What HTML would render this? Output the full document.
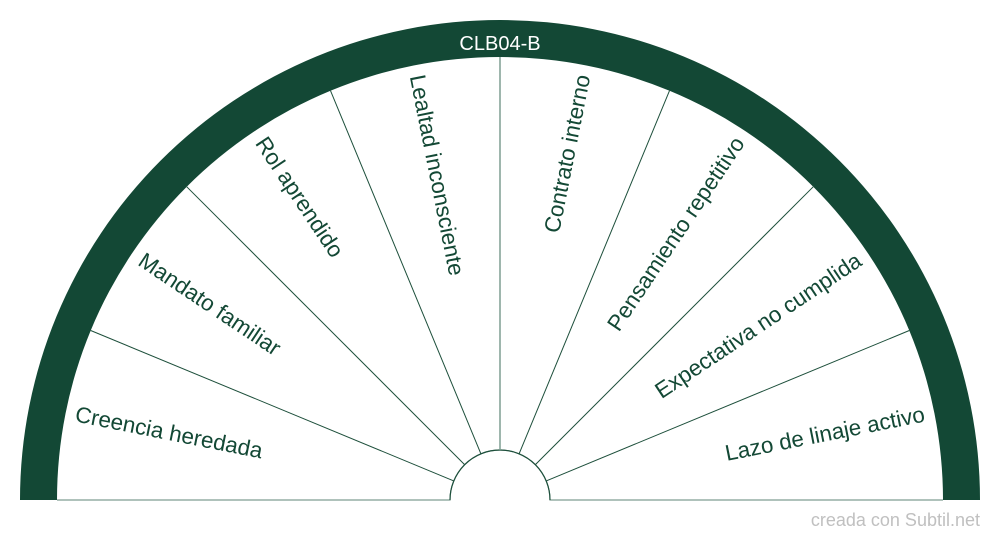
<!DOCTYPE html>
<html><head><meta charset="utf-8"><style>
html,body{margin:0;padding:0;background:#fff;}
svg{display:block;}
text{font-family:"Liberation Sans",sans-serif;}
</style></head><body>
<svg width="1000" height="540" viewBox="0 0 1000 540" xmlns="http://www.w3.org/2000/svg">
<path d="M20,500 A480,480 0 0 1 980,500 L943,500 A443,443 0 0 0 57,500 Z" fill="#134835"/>
<g stroke="#1d4f3b" stroke-width="1" fill="none">
<path d="M57,500 L450,500 A50,50 0 0 1 550,500 L943,500" stroke="#7f9d92" stroke-width="1.2"/>
<path d="M450,500 A50,50 0 0 1 550,500" stroke="#1d4f3b" stroke-width="1.2"/>
<line x1="453.8" y1="480.9" x2="90.7" y2="330.5"/>
<line x1="464.6" y1="464.6" x2="186.8" y2="186.8"/>
<line x1="480.9" y1="453.8" x2="330.5" y2="90.7"/>
<line x1="500" y1="450" x2="500" y2="57" stroke="#7f9d92" stroke-width="1.5"/>
<line x1="519.1" y1="453.8" x2="669.5" y2="90.7"/>
<line x1="535.4" y1="464.6" x2="813.2" y2="186.8"/>
<line x1="546.2" y1="480.9" x2="909.3" y2="330.5"/>
</g>
<text x="500" y="50" fill="#fff" font-size="20" text-anchor="middle">CLB04-B</text>
<g fill="#134835" font-size="22.4" dominant-baseline="middle">
<text transform="translate(75.3,415.5) rotate(11.25)">Creencia heredada</text>
<text transform="translate(140.0,259.5) rotate(33.75)">Mandato familiar</text>
<text transform="translate(259.5,140.0) rotate(56.25)">Rol aprendido</text>
<text transform="translate(415.5,75.3) rotate(78.75)">Lealtad inconsciente</text>
<text text-anchor="end" transform="translate(584.5,75.3) rotate(-78.75)">Contrato interno</text>
<text text-anchor="end" transform="translate(740.5,140.0) rotate(-56.25)">Pensamiento repetitivo</text>
<text text-anchor="end" transform="translate(860.0,259.5) rotate(-33.75)">Expectativa no cumplida</text>
<text text-anchor="end" transform="translate(924.7,415.5) rotate(-11.25)">Lazo de linaje activo</text>
</g>
<text x="980" y="526" fill="#c0c0c0" font-size="18" text-anchor="end">creada con Subtil.net</text>
</svg>
</body></html>
